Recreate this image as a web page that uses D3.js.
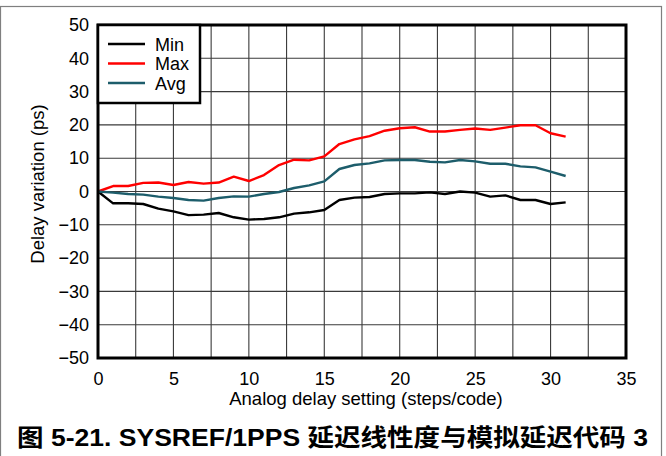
<!DOCTYPE html>
<html>
<head>
<meta charset="utf-8">
<script src="https://cdn.jsdelivr.net/npm/d3@7"></script>
<style>
  html, body { margin: 0; padding: 0; background: #fff; }
  svg { display: block; }
  text { font-family: "Liberation Sans", Arial, "Noto Sans CJK SC", sans-serif; }
</style>
</head>
<body>
<svg id="chart" width="666" height="456"></svg>
<script>
const codes = d3.range(0, 32);
const minVals = [0, -3.55, -3.55, -3.75, -5.15, -5.95, -7.1, -6.95, -6.45, -7.75, -8.45, -8.25, -7.75, -6.65, -6.25, -5.55,
                 -2.55, -1.85, -1.65, -0.75, -0.55, -0.55, -0.25, -0.75, 0, -0.35, -1.55, -1.15, -2.55, -2.55, -3.75, -3.25];
const maxVals = [0, 1.65, 1.65, 2.6, 2.7, 1.95, 2.85, 2.35, 2.7, 4.45, 3.15, 4.95, 7.95, 9.55, 9.35, 10.55,
                 14.25, 15.65, 16.65, 18.25, 19.0, 19.3, 18.0, 18.0, 18.5, 18.9, 18.5, 19.2, 19.9, 19.9, 17.5, 16.5];
const avgVals = [0, -0.35, -0.75, -0.95, -1.55, -1.95, -2.55, -2.75, -1.95, -1.45, -1.55, -0.75, -0.15, 1.05, 1.85, 3.05,
                 6.75, 7.95, 8.45, 9.35, 9.45, 9.45, 8.95, 8.75, 9.45, 9.05, 8.35, 8.35, 7.55, 7.25, 5.95, 4.65];
const seriesNames = ["Min", "Max", "Avg"];
const seriesColors = ["#000000", "#ff0000", "#1d5d6b"];
const xTicks = [0, 5, 10, 15, 20, 25, 30, 35];
const yTicks = [-50, -40, -30, -20, -10, 0, 10, 20, 30, 40, 50];
const xTitle = "Analog delay setting (steps/code)";
const yTitle = "Delay variation (ps)";
const caption = "图 5-21. SYSREF/1PPS 延迟线性度与模拟延迟代码 3";

const svg = d3.select("#chart");
const L = 98, R = 626, T = 25, B = 358;
const x = d3.scaleLinear().domain([0, 35]).range([L, R]);
const y = d3.scaleLinear().domain([-50, 50]).range([B, T]);
const FONT = '"Liberation Sans", Arial, sans-serif';

// outer frame
svg.append("rect").attr("x", 0.5).attr("y", 6.5).attr("width", 661).attr("height", 460)
  .attr("fill", "none").attr("stroke", "#7f7f7f").attr("stroke-width", 1.2);

// grid
const g = svg.append("g");
g.selectAll("line.vg").data(d3.range(2.5, 35, 2.5)).join("line")
  .attr("x1", d => x(d)).attr("x2", d => x(d)).attr("y1", T).attr("y2", B)
  .attr("stroke", "#3a3a3a").attr("stroke-width", 1.1);
g.selectAll("line.hg").data(yTicks.slice(1, -1)).join("line")
  .attr("y1", d => y(d)).attr("y2", d => y(d)).attr("x1", L).attr("x2", R)
  .attr("stroke", "#3a3a3a").attr("stroke-width", 1.1);

// axes labels via d3 axes
const xAxis = d3.axisBottom(x).tickValues(xTicks).tickSize(0).tickPadding(14);
const yAxis = d3.axisLeft(y).tickValues(yTicks).tickSize(0).tickPadding(9);
const xg = svg.append("g").attr("transform", `translate(0,${B})`).call(xAxis);
const yg = svg.append("g").attr("transform", `translate(${L},0)`).call(yAxis);
[xg, yg].forEach(a => {
  a.select(".domain").remove();
  a.selectAll("text").attr("font-size", 18).attr("fill", "#000").attr("font-family", FONT);
});

// series
const line = d3.line().x((d, i) => x(codes[i])).y(d => y(d));
[minVals, maxVals, avgVals].forEach((vals, k) => {
  svg.append("path").datum(vals).attr("d", line)
    .attr("fill", "none").attr("stroke", seriesColors[k]).attr("stroke-width", 2.4)
    .attr("stroke-linejoin", "round");
});

// plot border
svg.append("rect").attr("x", L).attr("y", T).attr("width", R - L).attr("height", B - T)
  .attr("fill", "none").attr("stroke", "#000").attr("stroke-width", 3);

// legend
const lg = svg.append("g");
lg.append("rect").attr("x", L).attr("y", T).attr("width", 102).attr("height", 78)
  .attr("fill", "#fff").attr("stroke", "#000").attr("stroke-width", 2.5);
seriesNames.forEach((n, k) => {
  const yy = 44 + k * 19.5;
  lg.append("line").attr("x1", 108).attr("x2", 145).attr("y1", yy).attr("y2", yy)
    .attr("stroke", seriesColors[k]).attr("stroke-width", 2.4);
  lg.append("text").attr("x", 155).attr("y", yy + 6.5).attr("font-size", 18)
    .attr("font-family", FONT).text(n);
});

// titles
svg.append("text").attr("x", 366).attr("y", 405).attr("text-anchor", "middle")
  .attr("font-size", 18.5).attr("font-family", FONT).text(xTitle);
svg.append("text").attr("transform", `translate(44,184) rotate(-90)`).attr("text-anchor", "middle")
  .attr("font-size", 18.5).attr("font-family", FONT).text(yTitle);
svg.append("text").attr("x", 17).attr("y", 446).attr("font-size", 24).attr("font-weight", "bold")
  .attr("textLength", 631).attr("lengthAdjust", "spacingAndGlyphs")
  .attr("font-family", '"Liberation Sans", Arial, "Noto Sans CJK SC", sans-serif')
  .text(caption);
</script>
</body>
</html>
